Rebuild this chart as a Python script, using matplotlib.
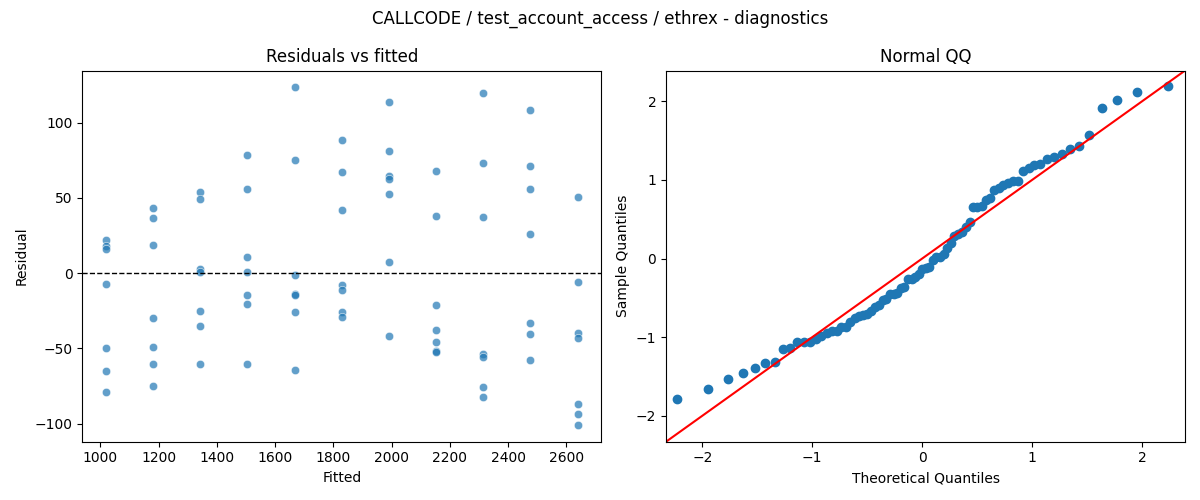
from statistics import NormalDist

import matplotlib
matplotlib.use("Agg")
import matplotlib.pyplot as plt
import numpy as np
import pandas as pd
import seaborn as sns

# fitted value of each group
fitted_levels = [1019, 1181, 1343, 1505, 1667, 1829, 1991, 2153, 2315, 2477, 2639]

# residuals per fitted group, seven runs each
residuals_by_group = [
    [22.1, 17.7, 15.9, -7.1, -49.5, -65.0, -78.7],
    [43.1, 36.5, 18.6, -29.8, -49.1, -60.3, -74.7],
    [53.7, 49.1, 2.8, 0.6, -25.0, -34.9, -60.1],
    [78.2, 55.7, 10.6, 0.9, -14.6, -20.6, -60.1],
    [123.3, 74.9, -1.3, -13.8, -14.6, -25.7, -64.3],
    [88.2, 67.0, 42.0, -7.8, -11.1, -25.7, -29.0],
    [113.4, 80.9, 64.5, 62.7, 52.4, 7.3, -41.6],
    [67.6, 37.8, -21.2, -37.8, -45.8, -52.0, -52.4],
    [119.4, 72.9, 37.1, -53.7, -55.7, -75.4, -82.2],
    [108.1, 71.0, 55.7, 25.9, -33.2, -40.5, -57.7],
    [50.4, -6.0, -39.8, -43.1, -86.9, -93.5, -100.8],
]

title = "CALLCODE / test_account_access / ethrex - diagnostics"

rows = []
for fit, group in zip(fitted_levels, residuals_by_group):
    for r in group:
        rows.append({"fitted": fit, "resid": r})
df = pd.DataFrame(rows)

fig, (ax1, ax2) = plt.subplots(1, 2, figsize=(12, 5))

# residuals vs fitted
sns.scatterplot(data=df, x="fitted", y="resid", ax=ax1, alpha=0.7)
ax1.axhline(0, color="black", linestyle="--", linewidth=1)
ax1.set_title("Residuals vs fitted")
ax1.set_xlabel("Fitted")
ax1.set_ylabel("Residual")

# normal qq of standardised residuals
resid = df["resid"].to_numpy()
sample = np.sort((resid - resid.mean()) / resid.std(ddof=1))
n = len(sample)
nd = NormalDist()
theoretical = np.array([nd.inv_cdf(i / (n + 1)) for i in range(1, n + 1)])

ax2.plot(theoretical, sample, "o", color="C0", markersize=6)
lo, hi = -2.33, 2.39
ax2.plot([lo, hi], [lo, hi], color="r")
ax2.set_xlim(lo, hi)
ax2.set_ylim(lo, hi)
ax2.set_title("Normal QQ")
ax2.set_xlabel("Theoretical Quantiles")
ax2.set_ylabel("Sample Quantiles")

fig.suptitle(title)
fig.tight_layout()
fig.savefig("out.png", dpi=100)
plt.close(fig)
